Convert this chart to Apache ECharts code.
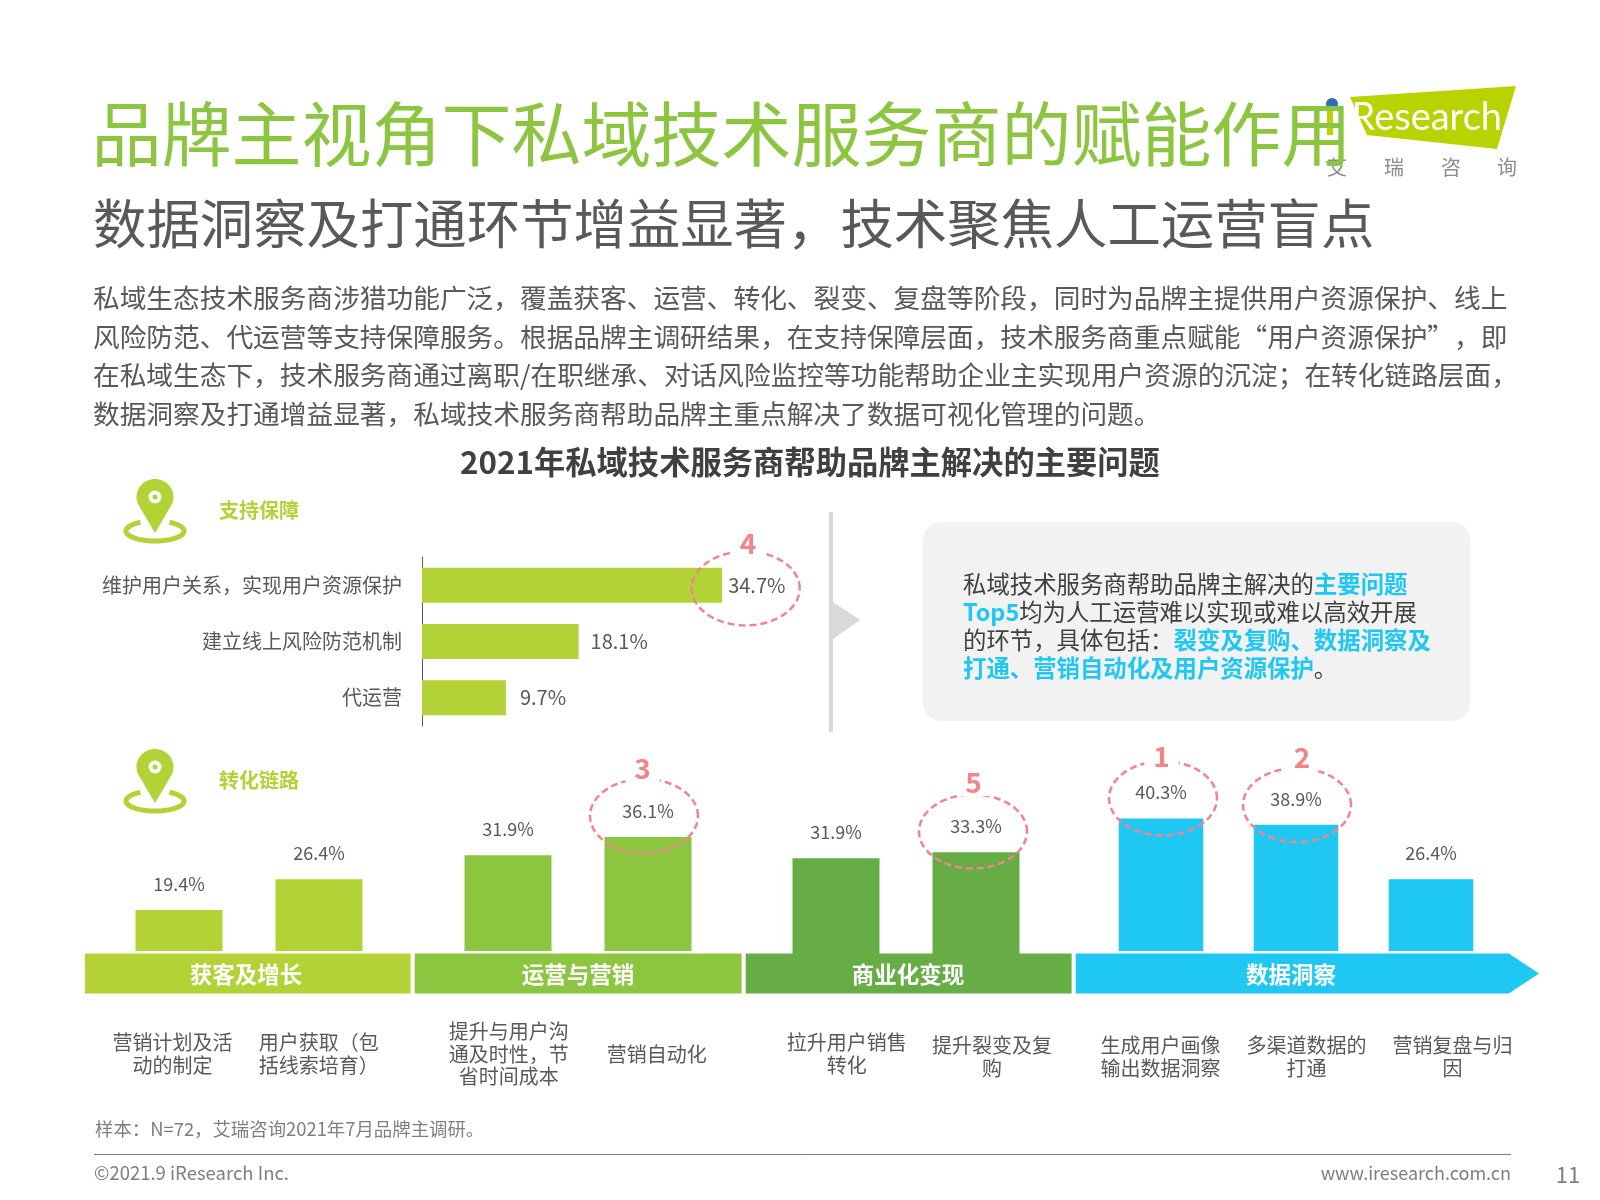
<!DOCTYPE html>
<html>
<head>
<meta charset="utf-8">
<style>html,body{margin:0;padding:0;background:#fff}#main{width:1600px;height:1200px}</style>
<script src="https://cdn.jsdelivr.net/npm/echarts@6/dist/echarts.min.js"></script>
</head>
<body>
<div id="main"></div>
<script>
const titleText = '品牌主视角下私域技术服务商的赋能作用';
const subTitleText = '数据洞察及打通环节增益显著，技术聚焦人工运营盲点';
const introLines = [
  '私域生态技术服务商涉猎功能广泛，覆盖获客、运营、转化、裂变、复盘等阶段，同时为品牌主提供用户资源保护、线上',
  '风险防范、代运营等支持保障服务。根据品牌主调研结果，在支持保障层面，技术服务商重点赋能“用户资源保护”，即',
  '在私域生态下，技术服务商通过离职/在职继承、对话风险监控等功能帮助企业主实现用户资源的沉淀；在转化链路层面，',
  '数据洞察及打通增益显著，私域技术服务商帮助品牌主重点解决了数据可视化管理的问题。'
];
const chartTitle = '2021年私域技术服务商帮助品牌主解决的主要问题';

const supportCats = ['维护用户关系，实现用户资源保护', '建立线上风险防范机制', '代运营'];
const supportVals = [34.7, 18.1, 9.7];

const acquireCats = ['营销计划及活\n动的制定', '用户获取（包\n括线索培育）'];
const acquireVals = [19.4, 26.4];
const operateCats = ['提升与用户沟\n通及时性，节\n省时间成本', '营销自动化'];
const operateVals = [31.9, 36.1];
const monetizeCats = ['拉升用户销售\n转化', '提升裂变及复\n购'];
const monetizeVals = [31.9, 33.3];
const insightCats = ['生成用户画像\n输出数据洞察', '多渠道数据的\n打通', '营销复盘与归\n因'];
const insightVals = [40.3, 38.9, 26.4];

const stageNames = ['获客及增长', '运营与营销', '商业化变现', '数据洞察'];

const FONT = '"Noto Sans CJK SC","Noto Sans",sans-serif';
const GREY = '#595959';
const LIME = '#b2d235', LEAF = '#8cc53f', GREEN = '#66ad46', SKY = '#1fc8f3', PINK = '#f4838b';

function txt(text, x, y, size, fill, extra) {
  return {
    type: 'text', z: 20,
    style: Object.assign({
      text: text, x: x, y: y, fontSize: size, fontFamily: FONT, fill: fill,
      align: 'left', verticalAlign: 'middle'
    }, extra || {})
  };
}

// the graphic component has no ellipse or free path, so outlines go through polygon/polyline
function arcPoints(cx, cy, rx, ry, from, to) {
  const pts = [];
  const n = 72;
  for (let i = 0; i <= n; i++) {
    const a = (from + (to - from) * i / n) * Math.PI / 180;
    pts.push([cx + rx * Math.cos(a), cy - ry * Math.sin(a)]);
  }
  return pts;
}

function pin(cx, tipY, ringY) {
  const h = tipY - 36;
  return [
    { type: 'polygon', z: 15, shape: { points: [[cx, tipY], ...arcPoints(cx, h, 18.5, 18, 205, -25)] }, style: { fill: LIME } },
    { type: 'circle', z: 16, shape: { cx: cx, cy: h, r: 6.5 }, style: { fill: '#fff' } },
    { type: 'circle', z: 17, shape: { cx: cx, cy: h, r: 2.5 }, style: { fill: LIME } },
    { type: 'polyline', z: 15, shape: { points: arcPoints(cx, ringY, 29, 10, 120, 420) }, style: { fill: 'none', stroke: LIME, lineWidth: 5 } }
  ];
}

function rankCircle(cx, cy, label, lx, ly) {
  return [
    { type: 'polyline', z: 18, shape: { points: arcPoints(cx, cy, 54, 37, 0, 360) }, style: { fill: 'none', stroke: PINK, lineWidth: 2.5, lineDash: [7, 4] } },
    txt(label, lx, ly, 28, PINK, { align: 'center', fontWeight: 'bold', backgroundColor: '#fff', padding: [0, 9, 0, 9] })
  ];
}

function band(x1, x2, color, name, textX) {
  return [
    { type: 'rect', z: 5, shape: { x: x1, y: 953.5, width: x2 - x1, height: 40 }, style: { fill: color } },
    txt(name, textX, 974, 22.5, '#fff', { align: 'center', fontWeight: 'bold' })
  ];
}

function catLabels(cats, xs, ys) {
  return cats.map((c, i) => txt(c, xs[i], ys[i], 20, GREY, { align: 'center', lineHeight: 22.5 }));
}

const graphics = [
  // logo
  { type: 'polygon', z: 1, shape: { points: [[1350, 97], [1516, 86], [1497, 149], [1367, 135]] }, style: { fill: '#b9d300' } },
  { type: 'circle', z: 1, shape: { cx: 1332, cy: 104, r: 6 }, style: { fill: '#2f6db5' } },
  { type: 'rect', z: 1, shape: { x: 1327, y: 110, width: 6, height: 25 }, style: { fill: '#b9d300' } },
  txt('Research', 1502, 118, 38, '#fff', { align: 'right', fontFamily: 'Lato,"Noto Sans",sans-serif' }),
  txt('艾', 1337, 167, 20, '#8c8c8c', { align: 'center' }),
  txt('瑞', 1394, 167, 20, '#8c8c8c', { align: 'center' }),
  txt('咨', 1451, 167, 20, '#8c8c8c', { align: 'center' }),
  txt('询', 1507, 167, 20, '#8c8c8c', { align: 'center' }),

  txt(titleText, 91.5, 134, 70, LEAF),
  txt(subTitleText, 93, 224, 53.4, GREY),
  txt(chartTitle, 810, 462, 31.3, '#404040', { align: 'center', fontWeight: 'bold' }),
  txt('支持保障', 219, 510, 20, LIME, { fontWeight: 'bold' }),
  txt('转化链路', 219, 780, 20, LIME, { fontWeight: 'bold' }),

  // divider + callout
  { type: 'rect', z: 4, shape: { x: 829, y: 512, width: 4, height: 220 }, style: { fill: '#d9d9d9' } },
  { type: 'polygon', z: 4, shape: { points: [[833, 602], [860, 620], [833, 639]] }, style: { fill: '#d9d9d9' } },
  { type: 'rect', z: 4, shape: { x: 923, y: 522, width: 547, height: 199, r: 18 }, style: { fill: '#f2f2f2' } },
  txt('私域技术服务商帮助品牌主解决的{h|主要问题}\n{h|Top5}均为人工运营难以实现或难以高效开展\n的环节，具体包括：{h|裂变及复购、数据洞察及}\n{h|打通、营销自动化及用户资源保护}。', 963, 626, 23.4, '#404040', {
    lineHeight: 28,
    rich: { h: { fill: SKY, fontWeight: 'bold', fontSize: 23.4, fontFamily: FONT, lineHeight: 28 } }
  }),

  // footer
  txt('样本：N=72，艾瑞咨询2021年7月品牌主调研。', 95, 1129, 18.4, '#7f7f7f'),
  { type: 'line', z: 4, shape: { x1: 94, y1: 1154.5, x2: 1511, y2: 1154.5 }, style: { stroke: '#7f7f7f', lineWidth: 1 } },
  txt('©2021.9 iResearch Inc.', 94, 1173, 18.5, '#7f7f7f'),
  txt('www.iresearch.com.cn', 1511, 1173, 18, '#7f7f7f', { align: 'right' }),
  txt('11', 1568, 1175, 22, '#7f7f7f', { align: 'center' }),

  // stage band
  ...band(85, 410.6, LIME, stageNames[0], 246),
  ...band(414.7, 741.6, LEAF, stageNames[1], 578),
  ...band(745.7, 1071.6, GREEN, stageNames[2], 908),
  { type: 'polygon', z: 5, shape: { points: [[1075.7, 953.5], [1508.8, 953.5], [1539, 973.5], [1508.8, 993.5], [1075.7, 993.5]] }, style: { fill: SKY } },
  txt(stageNames[3], 1291, 974, 22.5, '#fff', { align: 'center', fontWeight: 'bold' }),

  ...pin(155, 533, 531),
  ...pin(155, 803, 801),

  ...rankCircle(745.7, 588.4, '4', 748, 543.5),
  ...rankCircle(644, 816, '3', 642.5, 768.5),
  ...rankCircle(973, 831.5, '5', 973.5, 782),
  ...rankCircle(1163, 798.3, '1', 1161.5, 756),
  ...rankCircle(1297, 805, '2', 1302, 757),

  ...catLabels(acquireCats, [172.6, 318.7], [1054, 1054]),
  ...catLabels(operateCats, [508.7, 656.8], [1054, 1054]),
  ...catLabels(monetizeCats, [846.8, 992], [1054, 1057]),
  ...catLabels(insightCats, [1160.5, 1306.5, 1452.6], [1057, 1057, 1057])
];
introLines.forEach((line, i) => graphics.push(txt(line, 93, 298 + i * 38.6, 26.7, GREY)));

function columnSeries(idx, vals, color, barWidth) {
  return {
    type: 'bar', xAxisIndex: idx, yAxisIndex: idx, data: vals, barWidth: barWidth,
    itemStyle: { color: color },
    label: { show: true, position: 'top', distance: 17, formatter: '{c}%', fontSize: 18, fontFamily: FONT, color: GREY }
  };
}

function columnAxes(idx, cats) {
  return {
    x: { type: 'category', gridIndex: idx, data: cats, axisLine: { show: false }, axisTick: { show: false }, axisLabel: { show: false } },
    y: { type: 'value', gridIndex: idx, min: 10, max: 45, show: false }
  };
}

const columnGroups = [
  { cats: acquireCats, vals: acquireVals, color: LIME, left: 109, width: 280, bottom: 249, barWidth: 87 },
  { cats: operateCats, vals: operateVals, color: LEAF, left: 438, width: 280, bottom: 249, barWidth: 87 },
  { cats: monetizeCats, vals: monetizeVals, color: GREEN, left: 766, width: 280, bottom: 246, barWidth: 87 },
  { cats: insightCats, vals: insightVals, color: SKY, left: 1093.5, width: 405, bottom: 249, barWidth: 84.5 }
];
const axes = columnGroups.map((g, i) => columnAxes(i + 1, g.cats));
const supportLabelGaps = [6, 12, 14];

const option = {
  animation: false,
  textStyle: { fontFamily: FONT },
  grid: [
    { left: 422, top: 557, width: 346, height: 169 },
    ...columnGroups.map(g => ({ left: g.left, width: g.width, bottom: g.bottom, height: 153 }))
  ],
  xAxis: [
    { type: 'value', gridIndex: 0, min: 0, max: 40, show: false },
    ...axes.map(a => a.x)
  ],
  yAxis: [
    {
      type: 'category', gridIndex: 0, inverse: true, data: supportCats,
      axisLine: { show: true, lineStyle: { color: GREY, width: 1 } }, axisTick: { show: false },
      axisLabel: { margin: 20, fontSize: 20, fontFamily: FONT, color: GREY }
    },
    ...axes.map(a => a.y)
  ],
  series: [
    {
      type: 'bar', xAxisIndex: 0, yAxisIndex: 0, barWidth: 35,
      data: supportVals.map((v, i) => ({ value: v, label: { distance: supportLabelGaps[i] } })),
      itemStyle: { color: LIME },
      label: { show: true, position: 'right', formatter: '{c}%', fontSize: 20, fontFamily: FONT, color: GREY }
    },
    ...columnGroups.map((g, i) => columnSeries(i + 1, g.vals, g.color, g.barWidth))
  ],
  graphic: { elements: graphics }
};

const chart = echarts.init(document.getElementById('main'));
chart.setOption(option);
</script>
</body>
</html>
